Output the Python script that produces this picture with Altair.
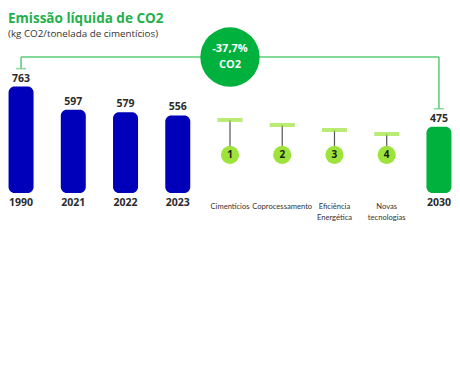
import altair as alt
import pandas as pd

# ---- data ----
years = ["1990", "2021", "2022", "2023"]
year_values = [763, 597, 579, 556]
target_year = "2030"
target_value = 475
levers = ["Cimentícios", "Coprocessamento", "Eficiência Energética", "Novas tecnologias"]
lever_labels = ["Cimentícios", "Coprocessamento", "Eficiência\nEnergética", "Novas\ntecnologias"]
lever_numbers = ["1", "2", "3", "4"]
lever_levels = [524, 488, 452, 423]  # estimated marker levels

BRACKET_LEVEL = 975
BADGE_LEVEL = 273

order = years + levers + [target_year]

bars = pd.DataFrame({
    "cat": years + [target_year],
    "value": year_values + [target_value],
    "kind": ["hist"] * len(years) + ["target"],
    "zero": [0] * (len(years) + 1),
})
lev = pd.DataFrame({
    "cat": levers,
    "label": lever_labels,
    "num": lever_numbers,
    "level": lever_levels,
    "badge": [BADGE_LEVEL] * len(levers),
    "zero": [0] * len(levers),
})
pct = (target_value - year_values[0]) / year_values[0] * 100
ann = pd.DataFrame({
    "cat": [levers[0]],
    "y": [BRACKET_LEVEL],
    "l1": [f"{pct:.1f}%".replace(".", ",")],
    "l2": ["CO2"],
})
bracket = pd.DataFrame({
    "cat": [years[0]], "cat2": [target_year], "y": [BRACKET_LEVEL],
})
caps = pd.DataFrame({
    "cat": [years[0], target_year],
    "value": [year_values[0], target_value],
    "top": [BRACKET_LEVEL, BRACKET_LEVEL],
})

FONT = "Open Sans"
xs = alt.Scale(type="point", domain=order, padding=0.25)
ys = alt.Scale(domain=[0, 1040])
X = lambda f: alt.X(f"{f}:N", scale=xs, axis=None)
Y = lambda f: alt.Y(f"{f}:Q", scale=ys, axis=None)

GREEN = "#00b13d"
LINE_GREEN = "#58cc76"
BLUE = "#0000bb"
LIME = "#9de33b"

base_bars = alt.Chart(bars)
bar_layer = base_bars.mark_bar(size=25, cornerRadius=6).encode(
    x=X("cat"), y=Y("value"), y2="zero:Q",
    color=alt.Color("kind:N", scale=alt.Scale(domain=["hist", "target"], range=[BLUE, GREEN]), legend=None),
)
val_text = base_bars.mark_text(baseline="bottom", dy=-3, font=FONT, fontSize=10.5, fontWeight="bold", color="#2b2b2b").encode(
    x=X("cat"), y=Y("value"), text="value:Q")
year_text = base_bars.mark_text(baseline="top", dy=5, font=FONT, fontSize=10.5, fontWeight="bold", color="#2b2b2b").encode(
    x=X("cat"), y=Y("zero"), text="cat:N")

# bracket
hline = alt.Chart(bracket).mark_rule(color=LINE_GREEN, strokeWidth=1.5).encode(
    x=X("cat"), x2="cat2:N", y=Y("y"))
vlines = alt.Chart(caps).mark_rule(color=LINE_GREEN, strokeWidth=1.5, y2Offset=-18).encode(
    x=X("cat"), y=Y("top"), y2="value:Q")
cap_ticks = alt.Chart(caps).mark_tick(color=LINE_GREEN, size=10, thickness=1.5, yOffset=-18, orient="horizontal").encode(
    x=X("cat"), y=Y("value"))

ann_base = alt.Chart(ann)
ann_circle = ann_base.mark_point(filled=True, shape="circle", size=3526, color=GREEN, opacity=1).encode(
    x=X("cat"), y=Y("y"))
ann_t1 = ann_base.mark_text(dy=-8, font=FONT, fontSize=11, fontWeight="bold", color="white").encode(
    x=X("cat"), y=Y("y"), text="l1:N")
ann_t2 = ann_base.mark_text(dy=8, font=FONT, fontSize=11, fontWeight="bold", color="white").encode(
    x=X("cat"), y=Y("y"), text="l2:N")

# levers
lb = alt.Chart(lev)
stems = lb.mark_rule(color="#555555", strokeWidth=1.2).encode(x=X("cat"), y=Y("level"), y2="badge:Q")
markers = lb.mark_tick(color=LIME, size=25, thickness=4, orient="horizontal").encode(x=X("cat"), y=Y("level"))
badges = lb.mark_point(filled=True, shape="circle", size=330, color=LIME, opacity=1).encode(x=X("cat"), y=Y("badge"))
badge_num = lb.mark_text(font=FONT, fontSize=10, fontWeight="bold", color="#1a1a1a", baseline="middle").encode(
    x=X("cat"), y=Y("badge"), text="num:N")
lever_text = lb.mark_text(baseline="top", dy=10, font="Lato", fontSize=7.6, color="#333333", lineBreak="\n", lineHeight=10.5).encode(
    x=X("cat"), y=Y("zero"), text="label:N")

chart = alt.layer(
    hline, vlines, cap_ticks, ann_circle, ann_t1, ann_t2,
    bar_layer, val_text, year_text,
    stems, markers, badges, badge_num, lever_text,
).properties(
    width=444, height=145,
    autosize=alt.AutoSizeParams(type="none"),
    padding={"left": 0, "top": 40, "right": 0, "bottom": 70},
    title=alt.Title(
        "Emissão líquida de CO2",
        subtitle="(kg CO2/tonelada de cimentícios)",
        anchor="start", frame="group", offset=-11,
        font=FONT, fontSize=13.5, fontWeight="bold", color="#22b14c",
        subtitleFont=FONT, subtitleFontSize=9.8, subtitleColor="#333333", subtitlePadding=3,
    ),
).configure_view(stroke=None)

chart.save("out.html", embed_options={"renderer": "svg", "actions": False})
